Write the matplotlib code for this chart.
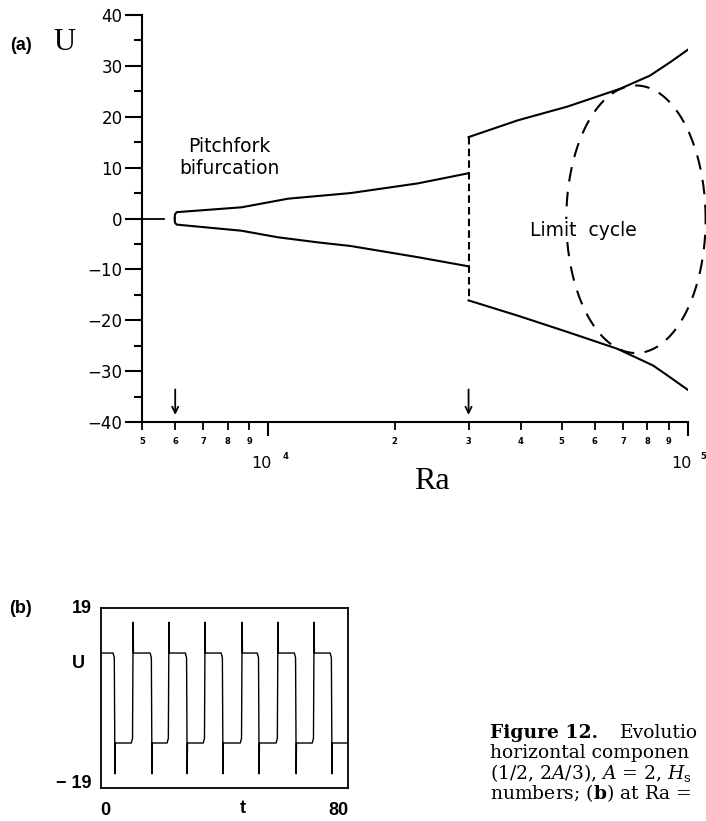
import numpy as np
import matplotlib
matplotlib.use("Agg")
import matplotlib.pyplot as plt
from matplotlib.ticker import FixedLocator, FixedFormatter, NullFormatter

plt.rcParams["font.family"] = ["DejaVu Sans"]
plt.rcParams["mathtext.fontset"] = "dejavuserif"

# ---- panel (a): bifurcation diagram, U against Ra (log axis) ----
ra_rest = [5000, 5650]
u_rest = [0.0, 0.0]

ra_pitch_up = [5985, 5990, 6050, 8630, 11150, 15700, 22700, 30000]
u_pitch_up = [0.0, 0.8, 1.25, 2.2, 3.9, 5.0, 6.9, 8.9]
ra_pitch_dn = [5985, 5990, 6050, 8630, 10560, 13150, 15700, 22700, 30000]
u_pitch_dn = [0.0, -0.8, -1.2, -2.4, -3.7, -4.7, -5.4, -7.6, -9.4]

ra_jump = [30000, 30000]
u_jump = [16.0, -16.1]

ra_high_up = [30000, 39300, 51600, 68900, 81200, 90600, 100000]
u_high_up = [16.0, 19.3, 22.0, 25.5, 28.1, 30.7, 33.2]
ra_high_dn = [30000, 39300, 51600, 67800, 82600, 90600, 100000]
u_high_dn = [-16.1, -19.1, -22.3, -25.6, -28.9, -31.2, -33.7]

# limit cycle drawn as an ellipse in log(Ra)
cycle_log_center = 4.876
cycle_log_half = 0.166
cycle_u_center = -0.15
cycle_u_half = 26.3

arrow_ra = [6000, 30000]

minor_ticks = [5000, 6000, 7000, 8000, 9000,
               20000, 30000, 40000, 50000, 60000, 70000, 80000, 90000]
minor_labels = ["5", "6", "7", "8", "9", "2", "3", "4", "5", "6", "7", "8", "9"]
major_ticks = [1e4, 1e5]
major_exp = ["4", "5"]

# ---- panel (b): time series of U ----
t_drop = [4.5, 16.5, 27.9, 39.5, 51.2, 63.2, 74.8]
t_rise = [10.4, 22.0, 33.7, 45.7, 57.3, 69.0]
u_hi, u_lo = 9.5, -9.5
u_spike_hi, u_spike_lo = 16.0, -16.0
t_end = 80

fig = plt.figure(figsize=(7.06, 8.21), dpi=100)

ax = fig.add_axes([0.2011, 0.4860, 0.7734, 0.4957])
ax.set_xscale("log")
ax.set_xlim(5000, 1e5)
ax.set_ylim(-40, 40)

lw = 1.5
ax.plot(ra_rest, u_rest, color="black", lw=1.3)
ax.plot(ra_pitch_up, u_pitch_up, color="black", lw=lw)
ax.plot(ra_pitch_dn, u_pitch_dn, color="black", lw=lw)
ax.plot(ra_jump, u_jump, color="black", lw=lw, dashes=(3.6, 2.0))
ax.plot(ra_high_up, u_high_up, color="black", lw=lw)
ax.plot(ra_high_dn, u_high_dn, color="black", lw=lw)

theta = np.linspace(0, 2 * np.pi, 300)
ax.plot(10 ** (cycle_log_center + cycle_log_half * np.cos(theta)),
        cycle_u_center + cycle_u_half * np.sin(theta),
        color="black", lw=lw, dashes=(7, 5), clip_on=False)

for ra in arrow_ra:
    ax.annotate("", xy=(ra, -38.6), xytext=(ra, -33.6),
                arrowprops=dict(arrowstyle="->", lw=1.3, color="black",
                                mutation_scale=11, shrinkA=0, shrinkB=0))

for side in ["top", "right"]:
    ax.spines[side].set_visible(False)
for side in ["left", "bottom"]:
    ax.spines[side].set_linewidth(1.5)

ax.set_yticks(np.arange(-40, 41, 10))
ax.set_yticks(np.arange(-35, 40, 10), minor=True)
ax.tick_params(axis="y", which="major", direction="out", length=12, width=1.5,
               labelsize=12, pad=2)
ax.tick_params(axis="y", which="minor", direction="out", length=6, width=1.5)

ax.xaxis.set_major_locator(FixedLocator(major_ticks))
ax.xaxis.set_major_formatter(NullFormatter())
ax.xaxis.set_minor_locator(FixedLocator(minor_ticks))
ax.xaxis.set_minor_formatter(FixedFormatter(minor_labels))
ax.tick_params(axis="x", which="major", direction="out", length=10, width=1.5)
ax.tick_params(axis="x", which="minor", direction="out", length=6, width=1.3,
               labelsize=6, pad=5)
for lab in ax.xaxis.get_minorticklabels():
    lab.set_fontweight("bold")

exp_dx = [17, 15]
for ra, ex, dx in zip(major_ticks, major_exp, exp_dx):
    ax.annotate("10", xy=(ra, 0), xycoords=("data", "axes fraction"),
                xytext=(-7, -42), textcoords="offset pixels",
                ha="center", va="center", fontsize=11.5)
    ax.annotate(ex, xy=(ra, 0), xycoords=("data", "axes fraction"),
                xytext=(dx, -35), textcoords="offset pixels",
                ha="center", va="center", fontsize=6, fontweight="bold")

ax.text(8080, 12.0, "Pitchfork\nbifurcation", ha="center", va="center",
        fontsize=13.5, linespacing=1.15)
ax.text(56300, -2.3, "Limit  cycle", ha="center", va="center", fontsize=13.5,
        zorder=5, bbox=dict(facecolor="white", edgecolor="none", pad=1.5))

fig.text(21 / 706, 1 - 45 / 821, "(a)", ha="center", va="center",
         fontsize=13, fontweight="bold", family="Liberation Sans")
fig.text(64 / 706, 1 - 42 / 821, "U", ha="center", va="center",
         fontsize=22, family="Liberation Serif")
fig.text(432 / 706, 1 - 481 / 821, "Ra", ha="center", va="center",
         fontsize=23, family="Liberation Serif")

# ---- panel (b) ----
t_pts = [0.0]
u_pts = [u_hi]
for i, td in enumerate(t_drop):
    t_pts += [td - 0.6, td - 0.2, td, td + 0.1]
    u_pts += [u_hi, u_hi - 1.0, u_spike_lo, u_lo]
    if i < len(t_rise):
        tr = t_rise[i]
        t_pts += [tr - 0.6, tr - 0.2, tr, tr + 0.1]
        u_pts += [u_lo, u_lo + 1.0, u_spike_hi, u_hi]
t_pts.append(t_end)
u_pts.append(u_lo)

bx = fig.add_axes([0.1431, 0.0402, 0.3499, 0.2192])
bx.plot(t_pts, u_pts, color="black", lw=1.0)
bx.set_xlim(0, t_end)
bx.set_ylim(-19, 19)
bx.set_xticks([])
bx.set_yticks([])
for side in bx.spines.values():
    side.set_linewidth(1.3)

bold = dict(fontweight="bold", family="Liberation Sans", fontsize=13)
fig.text(21 / 706, 1 - 608 / 821, "(b)", ha="center", va="center", **bold)
fig.text(92 / 706, 1 - 608 / 821, "19", ha="right", va="center", **bold)
fig.text(78 / 706, 1 - 663 / 821, "U", ha="center", va="center", **bold)
fig.text(92 / 706, 1 - 783 / 821, "\u2212 19", ha="right", va="center", **bold)
fig.text(105 / 706, 1 - 810 / 821, "0", ha="center", va="center", **bold)
fig.text(243 / 706, 1 - 808 / 821, "t", ha="center", va="center", **bold)
fig.text(338 / 706, 1 - 810 / 821, "80", ha="center", va="center", **bold)

# caption, as far as the scan shows it
cap = dict(family="DejaVu Serif", fontsize=13.5, ha="left", va="center")
fig.text(490 / 706, 1 - 733 / 821, "Figure 12.", fontweight="bold", **cap)
fig.text(620 / 706, 1 - 733 / 821, "Evolutio", **cap)
fig.text(490 / 706, 1 - 753 / 821, "horizontal componen", **cap)
fig.text(490 / 706, 1 - 773 / 821, r"(1/2, 2$A$/3), $A$ = 2, $H_{\rm s}$", **cap)
fig.text(490 / 706, 1 - 793 / 821, r"numbers; ($\mathbf{b}$) at Ra =", **cap)

fig.savefig("out.png", dpi=100)
plt.close(fig)
